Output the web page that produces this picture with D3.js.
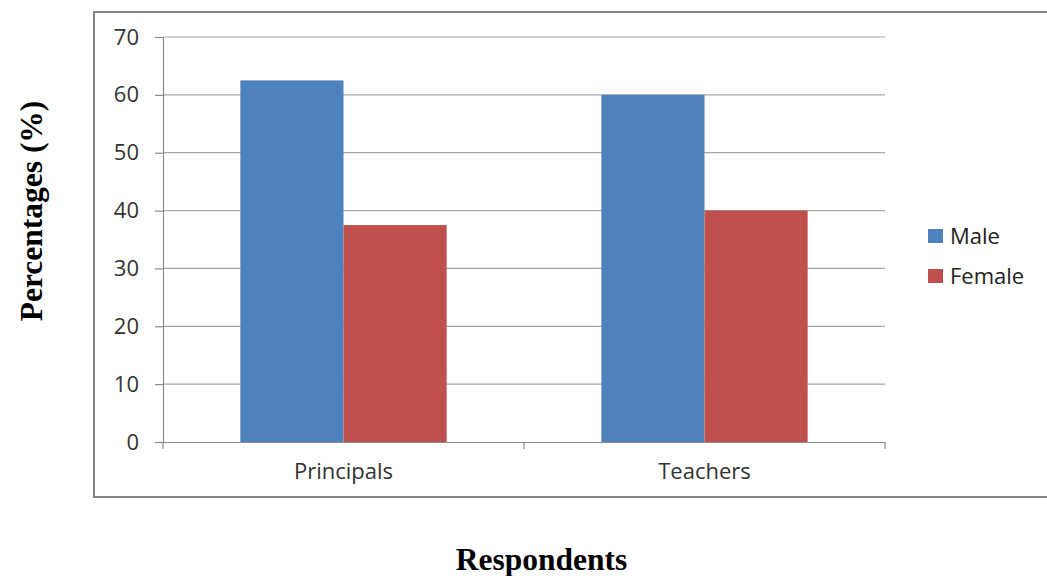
<!DOCTYPE html>
<html>
<head>
<meta charset="utf-8">
<script src="https://cdn.jsdelivr.net/npm/d3@7"></script>
<style>
  body { margin: 0; background: #fff; }
  #graph { width: 1047px; height: 576px; }
</style>
</head>
<body>
<div id="graph"></div>
<script>
const categories = ["Principals", "Teachers"];
const series = ["Male", "Female"];
const male = [62.5, 60];
const female = [37.5, 40];
const yTicks = [0, 10, 20, 30, 40, 50, 60, 70];
const colors = { Male: "#4f81bd", Female: "#c0504d" };

function chart() {
  const plot = { left: 163, right: 885, top: 37, bottom: 442 };
  const labelFont = "'Open Sans', sans-serif";
  const titleFont = "'Liberation Serif', 'Times New Roman', serif";
  const svg = d3.select("#graph")
    .append("svg")
    .attr("width", 1047)
    .attr("height", 576);

  // outer chart frame
  svg.append("rect")
    .attr("x", 94).attr("y", 12)
    .attr("width", 980).attr("height", 485)
    .attr("fill", "none")
    .attr("stroke", "#858585")
    .attr("stroke-width", 2);

  const x0 = d3.scaleBand().domain(categories).range([plot.left, plot.right]);
  const x1 = d3.scaleBand().domain(series).range([0, x0.bandwidth()]).paddingOuter(0.75);
  const y = d3.scaleLinear().domain([0, 70]).range([plot.bottom, plot.top]);

  // gridlines
  svg.append("g")
    .selectAll("line")
    .data(yTicks.slice(1))
    .enter()
    .append("line")
    .attr("x1", plot.left).attr("x2", plot.right)
    .attr("y1", d => y(d)).attr("y2", d => y(d))
    .attr("stroke", "#a6a6a6")
    .attr("stroke-width", 1.2);

  // bars
  const rows = categories.map((c, i) => ({ cat: c, values: [male[i], female[i]] }));
  svg.append("g")
    .selectAll("g")
    .data(rows)
    .enter()
    .append("g")
    .attr("transform", d => "translate(" + x0(d.cat) + ",0)")
    .selectAll("rect")
    .data(d => d.values.map((v, j) => ({ key: series[j], value: v })))
    .enter()
    .append("rect")
    .attr("x", d => x1(d.key))
    .attr("width", x1.bandwidth())
    .attr("y", d => y(d.value))
    .attr("height", d => y(0) - y(d.value))
    .attr("fill", d => colors[d.key]);

  // y axis
  const yAxis = svg.append("g")
    .attr("transform", "translate(" + plot.left + ",0)")
    .call(d3.axisLeft(y).tickValues(yTicks).tickSize(8).tickPadding(16));
  yAxis.select(".domain").attr("stroke", "#8c8c8c").attr("stroke-width", 1.2);
  yAxis.selectAll(".tick line").attr("stroke", "#8c8c8c").attr("stroke-width", 1.2);
  yAxis.selectAll("text")
    .attr("font-family", labelFont)
    .attr("font-size", 22)
    .attr("fill", "#333");

  // x axis
  const xAxis = svg.append("g")
    .attr("transform", "translate(0," + plot.bottom + ")")
    .call(d3.axisBottom(x0).tickSize(0).tickPadding(21));
  xAxis.select(".domain").attr("stroke", "#8c8c8c").attr("stroke-width", 1.2);
  xAxis.selectAll("text")
    .attr("font-family", labelFont)
    .attr("font-size", 22)
    .attr("fill", "#333");
  // category separator ticks
  const edges = [plot.left].concat(categories.map(c => x0(c) + x0.bandwidth()));
  xAxis.selectAll(".sep")
    .data(edges)
    .enter()
    .append("line")
    .attr("class", "sep")
    .attr("x1", d => d).attr("x2", d => d)
    .attr("y1", 0).attr("y2", 7)
    .attr("stroke", "#8c8c8c")
    .attr("stroke-width", 1.2);

  // legend
  const legend = svg.append("g")
    .selectAll("g")
    .data(series)
    .enter()
    .append("g")
    .attr("transform", (d, i) => "translate(928," + (229 + i * 40) + ")");
  legend.append("rect")
    .attr("width", 15).attr("height", 14)
    .attr("fill", d => colors[d]);
  legend.append("text")
    .attr("x", 22).attr("y", 7)
    .attr("dy", "0.36em")
    .attr("font-family", labelFont)
    .attr("font-size", 22)
    .attr("fill", "#222")
    .text(d => d);

  // axis titles
  svg.append("text")
    .attr("transform", "translate(42,211) rotate(-90)")
    .attr("text-anchor", "middle")
    .attr("font-family", titleFont)
    .attr("font-weight", "bold")
    .attr("font-size", 31.5)
    .text("Percentages (%)");

  svg.append("text")
    .attr("x", 541.5).attr("y", 570)
    .attr("text-anchor", "middle")
    .attr("font-family", titleFont)
    .attr("font-weight", "bold")
    .attr("font-size", 31.5)
    .text("Respondents");
}

chart();
</script>
</body>
</html>
